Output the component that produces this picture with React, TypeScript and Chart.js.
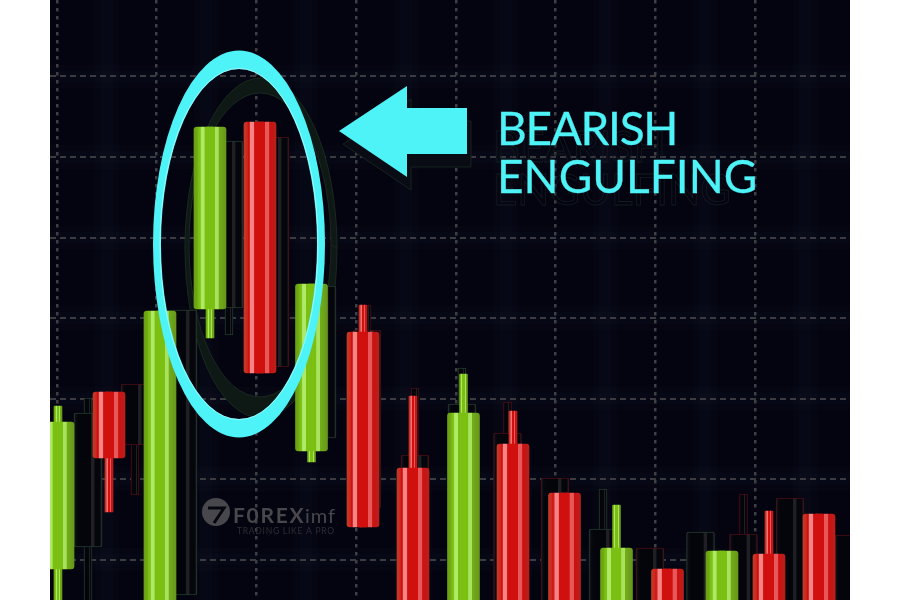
import React, { useEffect, useRef } from "react";
import { Chart, registerables } from "chart.js";

Chart.register(...registerables);

// Horizontal positions and price levels (price = height above the lower edge).
const mainX = [58, 109, 160, 210, 260, 311.5, 363, 413, 463.5, 513, 564.5, 616.5, 667.5, 722, 769, 819];
const mainOpen = [31, 208, -30, 291, 478, 149, 268, 132, -30, 156, 107, -30, 31, -30, 46, 86];
const mainClose = [178, 142, 289, 473, 227, 316, 73, -30, 187, -30, -30, 52, -30, 49, -30, -30];
const mainHigh = [194, 208, 289, 473, 478, 316, 295, 204, 226, 189, 107, 95, 31, 49, 89, 86];
const mainLow = [-30, 88, -30, 262, 227, 138, 73, -30, -30, -30, -30, -30, -30, -30, -30, -30];

const echoX = [88, 135, 183, 229, 275, 322, 367, 415, 462, 507.5, 555, 603, 650, 700.5, 743.5, 790, 849];
const echoOpen = [53, 216, 5, 292, 463, 162, 270, 145, -30, 167, 122, -30, 52, -30, 66, 102, 65];
const echoClose = [187, 155, 290, 459, 233, 314, 92, -30, 196, -30, -30, 71, -30, 68, -30, -30, -30];
const echoHigh = [202, 216, 290, 459, 463, 314, 295, 212, 232, 198, 122, 111, 52, 68, 106, 102, 65];
const echoLow = [-30, 105, 5, 265, 233, 162, 92, -30, -30, -30, -30, -30, -30, -30, -30, -30, -30];

const gridXTicks = [107, 206, 306, 406, 506, 605, 705, 805];
const gridYTicks = [40.5, 121, 201.5, 282, 362.5, 443, 523.5];

const titleLines = ["BEARISH", "ENGULFING"];
const brandName = "F0REX";
const brandSuffix = "imf";
const brandTagline = "TRADING LIKE A PRO";

const CYAN = "#4df3f7";

const greenStops: [number, string][] = [
  [0, "#6a9f14"], [0.1, "#70aa14"], [0.14, "#7abf12"], [0.2, "#80c41a"], [0.22, "#aeea66"], [0.32, "#aeea66"], [0.34, "#7abf12"],
  [0.64, "#7abf12"], [0.66, "#a8e25e"], [0.76, "#a8e25e"], [0.78, "#72ae18"], [1, "#67961c"],
];
const redStops: [number, string][] = [
  [0, "#c23a26"], [0.1, "#cc2a20"], [0.14, "#d00f0f"], [0.18, "#d8302c"], [0.2, "#f58585"], [0.31, "#f58585"], [0.33, "#d00f0f"],
  [0.65, "#d00f0f"], [0.67, "#e85858"], [0.78, "#e85858"], [0.8, "#cc1010"], [1, "#b8201c"],
];
const echoStops: [number, string][] = [
  [0, "#242428"], [0.06, "#0c0d12"], [0.14, "#04050b"], [0.6, "#04050b"], [0.62, "#202024"], [0.72, "#202024"],
  [0.74, "#05060c"], [0.92, "#05060c"], [1, "#262629"],
];

function paint(ctx: any, half: number, stops: [number, string][]) {
  const chart = ctx.chart;
  const raw = ctx.raw;
  const c = raw && chart.scales.x ? chart.scales.x.getPixelForValue(raw.x) : NaN;
  if (!Number.isFinite(c)) return stops[2][1];
  const g = chart.ctx.createLinearGradient(c - half, 0, c + half, 0);
  stops.forEach(([o, col]) => g.addColorStop(o, col));
  return g;
}

const bodies = (xs: number[], open: number[], close: number[]) =>
  xs.map((x, i) => ({ x, y: [open[i], close[i]], up: close[i] > open[i] }));
const wicks = (xs: number[], high: number[], low: number[], open: number[], close: number[]) =>
  xs.map((x, i) => ({ x, y: [low[i], high[i]], up: close[i] > open[i] }));

const backdrop = {
  id: "backdrop",
  beforeDraw(chart: any) {
    const { ctx, chartArea: a, scales } = chart;
    ctx.save();
    ctx.fillStyle = "#03040f";
    ctx.fillRect(a.left, a.top, a.width, a.height);
    ctx.strokeStyle = "rgba(60,64,80,0.05)";
    [24, 12].forEach((w) => {
      ctx.lineWidth = w;
      gridXTicks.forEach((t) => {
        const p = scales.x.getPixelForValue(t);
        ctx.beginPath(); ctx.moveTo(p, a.top); ctx.lineTo(p, a.bottom); ctx.stroke();
      });
      gridYTicks.forEach((t) => {
        const p = scales.y.getPixelForValue(t);
        ctx.beginPath(); ctx.moveTo(a.left, p); ctx.lineTo(a.right, p); ctx.stroke();
      });
    });
    ctx.restore();
  },
};

function arrowPath(ctx: any, X: (v: number) => number, Y: (v: number) => number, dx: number, dy: number) {
  const pts = [[339, 469], [407, 514], [407, 492], [467, 492], [467, 446], [407, 446], [407, 423]];
  ctx.beginPath();
  pts.forEach(([a, b], i) => {
    const px = X(a + dx), py = Y(b - dy);
    if (i) ctx.lineTo(px, py); else ctx.moveTo(px, py);
  });
  ctx.closePath();
}

const echoLayer = {
  id: "echoLayer",
  beforeDatasetsDraw(chart: any) {
    const { ctx, scales } = chart;
    const X = (v: number) => scales.x.getPixelForValue(v);
    const Y = (v: number) => scales.y.getPixelForValue(v);
    ctx.save();
    // faint second ring
    ctx.beginPath();
    ctx.ellipse(X(261), Y(352), 76, 170, 0, 0, Math.PI * 2);
    ctx.ellipse(X(260), Y(355), 71, 152, 0, 0, Math.PI * 2);
    ctx.fillStyle = "#0e1814";
    ctx.fill("evenodd");
    ctx.strokeStyle = "#1a2920";
    ctx.lineWidth = 1;
    ctx.stroke();
    // faint second arrow
    arrowPath(ctx, X, Y, 4, 13);
    ctx.fillStyle = "#090c14";
    ctx.fill();
    ctx.strokeStyle = "#17231f";
    ctx.stroke();
    // faint second caption
    ctx.font = "42px Lato";
    ctx.textBaseline = "alphabetic";
    ctx.strokeStyle = "#151c20";
    ctx.lineWidth = 0.8;
    ctx.strokeText(titleLines[0], X(493), Y(438));
    ctx.strokeText(titleLines[1], X(493), Y(395));
    ctx.restore();
  },
};

const overlay = {
  id: "overlay",
  afterDatasetsDraw(chart: any) {
    const { ctx, scales } = chart;
    const X = (v: number) => scales.x.getPixelForValue(v);
    const Y = (v: number) => scales.y.getPixelForValue(v);
    ctx.save();

    // watermark
    ctx.fillStyle = "#48484c";
    ctx.beginPath();
    ctx.arc(X(216), Y(88), 14, 0, Math.PI * 2);
    ctx.fill();
    ctx.strokeStyle = "#05060f";
    ctx.lineWidth = 3;
    ctx.beginPath();
    ctx.moveTo(X(208), Y(92)); ctx.lineTo(X(224), Y(92)); ctx.lineTo(X(214), Y(77));
    ctx.stroke();
    ctx.textBaseline = "alphabetic";
    ctx.fillStyle = "#48484c";
    ctx.font = "bold 21px Lato";
    ctx.letterSpacing = "1.7px";
    ctx.fillText(brandName, X(233), Y(77));
    ctx.font = "20px Lato";
    ctx.letterSpacing = "1px";
    ctx.fillText(brandSuffix, X(305), Y(77));
    ctx.fillStyle = "#2e2f35";
    ctx.font = "8.5px Lato";
    ctx.letterSpacing = "0.75px";
    ctx.fillText(brandTagline, X(237), Y(66));
    ctx.letterSpacing = "0px";

    // ring
    ctx.beginPath();
    ctx.ellipse(X(239), Y(356), 86, 193.5, 0, 0, Math.PI * 2);
    ctx.ellipse(X(239), Y(356), 78, 175, 0, 0, Math.PI * 2);
    ctx.fillStyle = CYAN;
    ctx.fill("evenodd");
    ctx.beginPath();
    ctx.ellipse(X(239), Y(356), 79, 175.5, 0, 0, Math.PI * 2);
    ctx.strokeStyle = "rgba(215,255,255,0.55)";
    ctx.lineWidth = 1;
    ctx.stroke();

    // arrow
    arrowPath(ctx, X, Y, 0, 0);
    ctx.fillStyle = CYAN;
    ctx.fill();

    // caption
    ctx.fillStyle = CYAN;
    ctx.strokeStyle = CYAN;
    ctx.lineWidth = 0.3;
    ctx.font = "46px Lato";
    ctx.letterSpacing = "-1.3px";
    ctx.fillText(titleLines[0], X(497), Y(455));
    ctx.strokeText(titleLines[0], X(497), Y(455));
    ctx.letterSpacing = "0px";
    ctx.fillText(titleLines[1], X(497), Y(407));
    ctx.strokeText(titleLines[1], X(497), Y(407));
    ctx.restore();
  },
};

export default function App() {
  const ref = useRef<HTMLCanvasElement>(null);
  useEffect(() => {
    const chart = new Chart(ref.current as HTMLCanvasElement, {
      type: "bar",
      data: {
        datasets: [
          {
            label: "Echo wicks", order: 4, barThickness: 8,
            data: wicks(echoX, echoHigh, echoLow, echoOpen, echoClose) as any,
            backgroundColor: (c: any) => paint(c, 4, echoStops),
            borderColor: (c: any) => (c.raw?.up ? "#20382a" : "#4a0c14"),
            borderWidth: 1, borderSkipped: false,
          },
          {
            label: "Echo bodies", order: 3, barThickness: 28,
            data: bodies(echoX, echoOpen, echoClose) as any,
            backgroundColor: (c: any) => paint(c, 14, echoStops),
            borderColor: (c: any) => (c.raw?.up ? "#20382a" : "#4a0c14"),
            borderWidth: 1, borderSkipped: false, borderRadius: 2,
          },
          {
            label: "Wicks", order: 2, barThickness: 8,
            data: wicks(mainX, mainHigh, mainLow, mainOpen, mainClose) as any,
            backgroundColor: (c: any) => paint(c, 4, c.raw?.up ? greenStops : redStops),
            borderWidth: 0, borderRadius: 1,
          },
          {
            label: "Bodies", order: 1, barThickness: 32,
            data: bodies(mainX, mainOpen, mainClose) as any,
            backgroundColor: (c: any) => paint(c, 16, c.raw?.up ? greenStops : redStops),
            borderWidth: 0, borderRadius: 3, borderSkipped: false,
          },
        ],
      },
      options: {
        animation: false,
        responsive: false,
        devicePixelRatio: 1,
        layout: { padding: 0 },
        grouped: false,
        plugins: { legend: { display: false }, tooltip: { enabled: false }, title: { display: false } },
        scales: {
          x: {
            type: "linear", min: 50, max: 850, offset: false,
            afterBuildTicks: (axis: any) => { axis.ticks = gridXTicks.map((value) => ({ value })); },
            ticks: { display: false },
            grid: { color: "#3e3e43", lineWidth: 2.5, drawTicks: false },
            border: { display: false, dash: [3.5, 4.5] },
          },
          y: {
            type: "linear", min: 0, max: 600,
            afterBuildTicks: (axis: any) => { axis.ticks = gridYTicks.map((value) => ({ value })); },
            ticks: { display: false },
            grid: { color: "#3b3b40", lineWidth: 2, drawTicks: false },
            border: { display: false, dash: [6, 4] },
          },
        },
      } as any,
      plugins: [backdrop, echoLayer, overlay],
    });
    return () => chart.destroy();
  }, []);
  return (
    <div style={{ position: "fixed", inset: 0, background: "#ffffff" }}>
      <canvas ref={ref} width={800} height={600} style={{ position: "absolute", left: 50, top: 0, width: 800, height: 600 }} />
    </div>
  );
}
